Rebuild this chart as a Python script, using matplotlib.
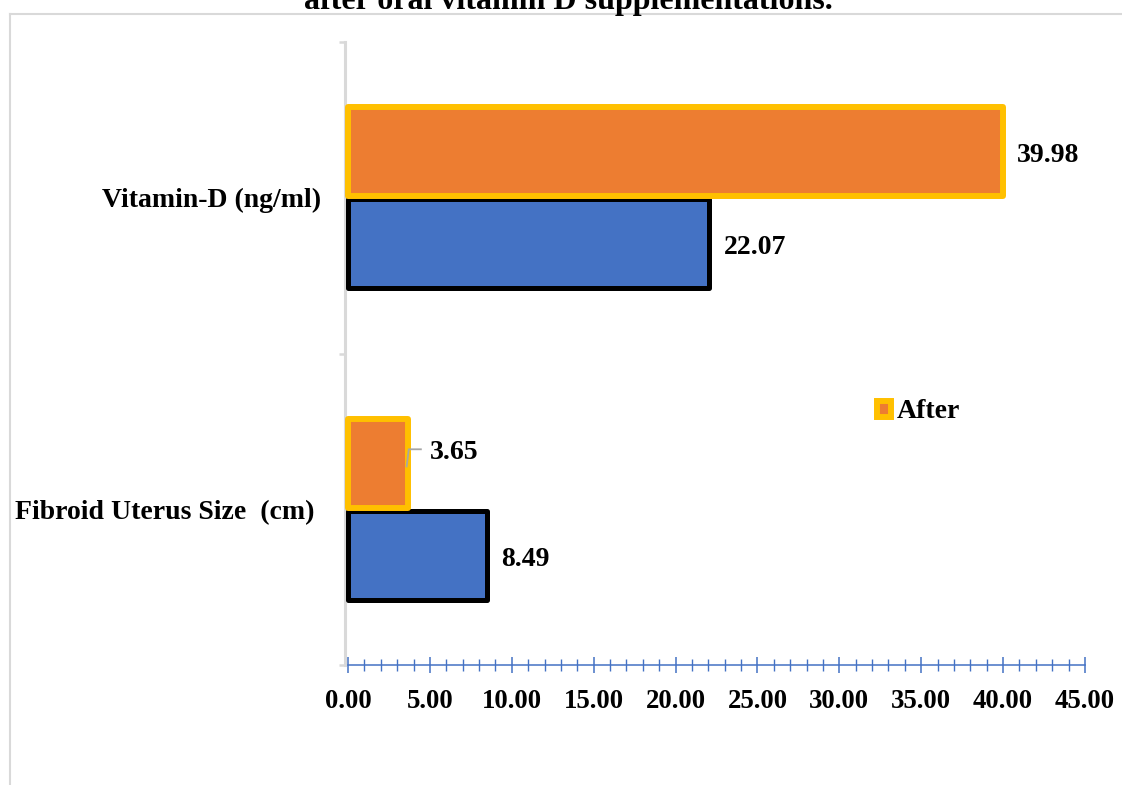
import matplotlib
matplotlib.use("Agg")
import matplotlib.pyplot as plt
from matplotlib.lines import Line2D
from matplotlib.patches import Patch
from matplotlib.ticker import MultipleLocator, FixedLocator, NullFormatter, FixedFormatter
import numpy as np

# Data
categories = ["Fibroid Uterus Size  (cm) ", "Vitamin-D (ng/ml)"]
before_vals = [8.49, 22.07]
after_vals = [3.65, 39.98]
x_ticks = [0, 5, 10, 15, 20, 25, 30, 35, 40, 45]
title_text = "after oral vitamin D supplementations."

BLUE = "#4472c4"
ORANGE = "#ed7d31"
GOLD = "#ffc000"
GRID_GREY = "#d9d9d9"
FONT = "Liberation Serif"

plt.rcParams["font.family"] = [FONT, "DejaVu Serif"]
plt.rcParams["font.weight"] = "bold"

fig = plt.figure(figsize=(11.22, 7.85), dpi=100)
W, H = 1122, 785

# chart-area outline (top and left edges)
fig.add_artist(Line2D([10 / W, 1], [1 - 14 / H, 1 - 14 / H], color=GRID_GREY, lw=1.5))
fig.add_artist(Line2D([10 / W, 10 / W], [1 - 14 / H, 0], color=GRID_GREY, lw=1.5))

# title (sits at the top edge)
fig.text(568 / W, 1 - 9 / H, title_text, ha="center", va="baseline",
         fontsize=23, fontweight="bold", color="black")

ax = fig.add_axes([348 / W, 1 - 665 / H, 737 / W, 623 / H])

y = np.arange(len(categories))
h = 0.285
off = 0.1475

bars_before = ax.barh(y - off, before_vals, height=h, color=BLUE, edgecolor="black",
                      linewidth=3.6, clip_on=False, zorder=3)
bars_after = ax.barh(y + off, after_vals, height=h, color=ORANGE, edgecolor=GOLD,
                     linewidth=4.3, clip_on=False, zorder=3)
for b in list(bars_before) + list(bars_after):
    b.set_joinstyle("round")

ax.set_xlim(0, 45)
ax.set_ylim(-0.5, len(categories) - 0.5)

# spines
for s in ("top", "right"):
    ax.spines[s].set_visible(False)
ax.spines["left"].set_color(GRID_GREY)
ax.spines["left"].set_linewidth(2.2)
ax.spines["left"].set_position(("outward", 2))
ax.spines["bottom"].set_color(BLUE)
ax.spines["bottom"].set_linewidth(1.1)

# x axis ticks
ax.xaxis.set_major_locator(FixedLocator(x_ticks))
ax.xaxis.set_minor_locator(MultipleLocator(1))
ax.set_xticklabels([f"{v:.2f}" for v in x_ticks])
ax.tick_params(axis="x", which="major", direction="inout", length=11, width=1.1,
               color=BLUE, pad=12, labelsize=19.3)
ax.tick_params(axis="x", which="minor", direction="inout", length=8, width=1.0,
               color=BLUE)
for lab in ax.get_xticklabels():
    lab.set_fontweight("bold")

# y axis: category boundaries as ticks, labels centred on categories
ax.yaxis.set_major_locator(FixedLocator(np.arange(-0.5, len(categories), 1.0)))
ax.yaxis.set_major_formatter(NullFormatter())
ax.yaxis.set_minor_locator(FixedLocator(y))
ax.yaxis.set_minor_formatter(FixedFormatter(categories))
ax.tick_params(axis="y", which="major", direction="out", length=4.5, width=1.8,
               color=GRID_GREY)
ax.tick_params(axis="y", which="minor", length=0, pad=17, labelsize=20)
for lab in ax.get_yticklabels(minor=True):
    lab.set_fontweight("bold")
    lab.set_va("center_baseline")

# value labels
for yi, v in zip(y, before_vals):
    ax.annotate(f"{v:.2f}", xy=(v, yi - off), xytext=(14, -1), textcoords="offset pixels",
                ha="left", va="center_baseline", fontsize=20, fontweight="bold")
for yi, v in zip(y, after_vals):
    if v < 10:
        # short bar: label lifted with a leader line
        tx = v + 1.35
        ty = yi + off + 0.045
        ax.plot([v - 0.07, v + 0.06, v + 0.8], [yi + off - 0.01, ty, ty],
                color="#a6a6a6", lw=1.3, zorder=4, clip_on=False)
        ax.text(tx, ty, f"{v:.2f}", ha="left", va="center_baseline",
                fontsize=20, fontweight="bold")
    else:
        ax.annotate(f"{v:.2f}", xy=(v, yi + off), xytext=(14, -1), textcoords="offset pixels",
                    ha="left", va="center_baseline", fontsize=20, fontweight="bold")

# legend (only the "After" entry)
handle = Patch(facecolor=ORANGE, edgecolor=GOLD, linewidth=4.3)
fig.legend([handle], ["After"], loc="center left",
           bbox_to_anchor=(877 / W, 1 - 412 / H), frameon=False,
           handlelength=0.5, handleheight=0.5, handletextpad=0.2,
           borderpad=0, borderaxespad=0,
           prop={"family": FONT, "weight": "bold", "size": 20})

fig.savefig("out.png", dpi=100)
